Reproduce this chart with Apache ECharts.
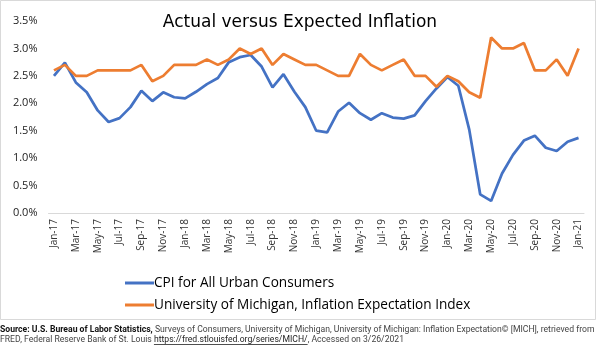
<!DOCTYPE html>
<html>
<head>
<meta charset="utf-8">
<script src="https://cdn.jsdelivr.net/npm/echarts@6/dist/echarts.min.js"></script>
<style>
html,body{margin:0;padding:0;background:#fff;}
#c{width:600px;height:346px;}
</style>
</head>
<body>
<div id="c"></div>
<script>
var categories = [
 'Jan-17','Feb-17','Mar-17','Apr-17','May-17','Jun-17','Jul-17','Aug-17','Sep-17','Oct-17','Nov-17','Dec-17',
 'Jan-18','Feb-18','Mar-18','Apr-18','May-18','Jun-18','Jul-18','Aug-18','Sep-18','Oct-18','Nov-18','Dec-18',
 'Jan-19','Feb-19','Mar-19','Apr-19','May-19','Jun-19','Jul-19','Aug-19','Sep-19','Oct-19','Nov-19','Dec-19',
 'Jan-20','Feb-20','Mar-20','Apr-20','May-20','Jun-20','Jul-20','Aug-20','Sep-20','Oct-20','Nov-20','Dec-20',
 'Jan-21'
];
var cpi = [
 2.50,2.74,2.38,2.20,1.87,1.66,1.73,1.93,2.23,2.04,2.20,2.11,
 2.09,2.21,2.35,2.46,2.75,2.84,2.88,2.67,2.29,2.53,2.21,1.93,
 1.50,1.47,1.85,2.01,1.82,1.70,1.82,1.74,1.72,1.78,2.04,2.27,
 2.48,2.32,1.52,0.34,0.22,0.72,1.06,1.32,1.41,1.19,1.13,1.30,
 1.37
];
var michigan = [
 2.6,2.7,2.5,2.5,2.6,2.6,2.6,2.6,2.7,2.4,2.5,2.7,
 2.7,2.7,2.8,2.7,2.8,3.0,2.9,3.0,2.7,2.9,2.8,2.7,
 2.7,2.6,2.5,2.5,2.9,2.7,2.6,2.7,2.8,2.5,2.5,2.3,
 2.5,2.4,2.2,2.1,3.2,3.0,3.0,3.1,2.6,2.6,2.8,2.5,
 3.0
];
var seriesNames = ['CPI for All Urban Consumers','University of Michigan, Inflation Expectation Index'];
var yTicks = [0,0.5,1.0,1.5,2.0,2.5,3.0,3.5];
var titleText = 'Actual versus Expected Inflation';
var sourceLine1Bold = 'Source: U.S. Bureau of Labor Statistics,';
var sourceLine1Rest = ' Surveys of Consumers, University of Michigan, University of Michigan: Inflation Expectation\u00a9 [MICH], retrieved from';
var sourceLine2a = 'FRED, Federal Reserve Bank of St. Louis ';
var sourceLink = 'https://fred.stlouisfed.org/series/MICH/';
var sourceLine2b = ', Accessed on 3/26/2021';

var chart = echarts.init(document.getElementById('c'), null, {renderer:'canvas'});
var fontMain = '"Open Sans", "Noto Sans", sans-serif';
var fontTitle = '"DejaVu Sans", "Open Sans", sans-serif';
var fontSrc = 'Roboto, "Liberation Sans", sans-serif';
var srcSize = 8.65;

var ctx = document.createElement('canvas').getContext('2d');
ctx.font = srcSize + 'px ' + fontSrc;
var linkX0 = ctx.measureText(sourceLine2a).width;
var linkW = ctx.measureText(sourceLink).width;

var option = {
  backgroundColor:'#ffffff',
  animation:false,
  title:{
    text:titleText, left:'center', top:9,
    textStyle:{fontFamily:fontTitle, fontSize:17, fontWeight:'normal', color:'#000'}
  },
  grid:{left:48.5, right:16, top:21, bottom:133, containLabel:false},
  legend:{
    orient:'vertical', left:120, top:271, itemGap:8,
    itemWidth:29, itemHeight:3, icon:'rect',
    textStyle:{fontFamily:fontMain, fontSize:13.6, color:'#000', padding:[0,0,0,-5]},
    data:seriesNames
  },
  xAxis:{
    type:'category', data:categories, boundaryGap:true,
    axisLine:{lineStyle:{color:'#d9d9d9', width:1}},
    axisTick:{show:false},
    axisLabel:{interval:1, rotate:90, fontSize:10, color:'#333', fontFamily:fontMain, margin:6},
    splitLine:{show:false}
  },
  yAxis:{
    type:'value', min:yTicks[0], max:yTicks[yTicks.length-1], interval:0.5,
    axisLine:{show:false}, axisTick:{show:false},
    splitLine:{show:false},
    axisLabel:{fontSize:11, color:'#222', fontFamily:fontMain, margin:11,
      formatter:function(v){return v.toFixed(1)+'%';}}
  },
  series:[
    {name:seriesNames[0], type:'line', data:cpi, symbol:'none', smooth:false,
     lineStyle:{color:'#4472C4', width:2.75}, itemStyle:{color:'#4472C4'}},
    {name:seriesNames[1], type:'line', data:michigan, symbol:'none', smooth:false,
     lineStyle:{color:'#ED7D31', width:2.75}, itemStyle:{color:'#ED7D31'}}
  ],
  graphic:[
    {type:'rect', silent:true, z:-10,
     shape:{x:0.5,y:0.5,width:595,height:319},
     style:{fill:'none', stroke:'#d9d9d9', lineWidth:1}},
    {type:'text', left:0, top:325, silent:true,
     style:{
       text:'{b|'+sourceLine1Bold+'}{r|'+sourceLine1Rest+'}',
       rich:{
         b:{fontFamily:fontSrc, fontSize:srcSize, fill:'#111', fontWeight:'bold'},
         r:{fontFamily:fontSrc, fontSize:srcSize, fill:'#444'}
       }
     }},
    {type:'text', left:0, top:335.5, silent:true,
     style:{
       text:'{r|'+sourceLine2a+'}{l|'+sourceLink+'}{r|'+sourceLine2b+'}',
       rich:{
         r:{fontFamily:fontSrc, fontSize:srcSize, fill:'#444'},
         l:{fontFamily:fontSrc, fontSize:srcSize, fill:'#222'}
       }
     }},
    {type:'line', silent:true,
     shape:{x1:linkX0, y1:344.5, x2:linkX0+linkW, y2:344.5},
     style:{stroke:'#222', lineWidth:0.8}}
  ]
};
chart.setOption(option);
</script>
</body>
</html>
